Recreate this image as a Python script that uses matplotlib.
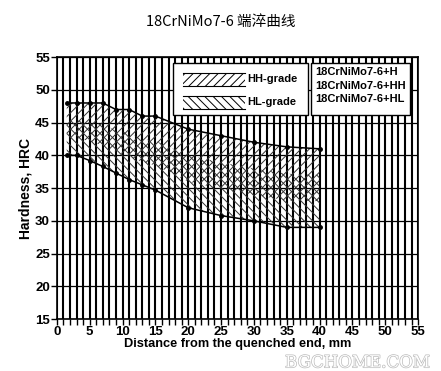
import matplotlib.pyplot as plt
import matplotlib.patheffects as pe
from matplotlib.patches import Rectangle
import numpy as np

# Jominy hardenability band, 18CrNiMo7-6
dist = np.array([1.5, 3, 5, 7, 9, 11, 13, 15, 20, 25, 30, 35, 40])
h_max = np.array([48, 48, 48, 48, 47, 47, 46, 46, 44, 43, 42, 41.3, 41])
h_min = np.array([40, 40, 39.2, 38.3, 37.3, 36.3, 35.5, 34.7, 32, 30.8, 30, 29, 29])

grade_labels = ['HH-grade', 'HL-grade']
steel_labels = ['18CrNiMo7-6+H', '18CrNiMo7-6+HH', '18CrNiMo7-6+HL']
title = '18CrNiMo7-6 端淬曲线'

plt.rcParams['font.family'] = ['Liberation Sans', 'DejaVu Sans']
plt.rcParams['hatch.linewidth'] = 0.7

fig = plt.figure(figsize=(4.41, 3.71), dpi=100)
ax = fig.add_axes([0.129, 0.140, 0.819, 0.706])

# HH = upper two thirds of the H band, HL = lower two thirds
third = (h_max - h_min) / 3
ax.fill_between(dist, h_min + third, h_max, facecolor='none', edgecolor='#333333',
                hatch='////', linewidth=0, zorder=2)
ax.fill_between(dist, h_min, h_max - third, facecolor='none', edgecolor='#333333',
                hatch='\\\\\\\\', linewidth=0, zorder=2)

ax.plot(dist, h_max, color='black', lw=1.1, marker='o', ms=2.5, zorder=4)
ax.plot(dist, h_min, color='black', lw=1.1, marker='o', ms=2.5, zorder=4)

ax.set_xlim(0, 55)
ax.set_ylim(15, 55)
ax.set_xticks(np.arange(0, 56, 5))
ax.set_xticks(np.arange(0, 56, 1), minor=True)
ax.set_yticks(np.arange(15, 56, 5))
ax.grid(which='both', axis='x', color='black', lw=1.5, zorder=1)
ax.grid(which='major', axis='y', color='black', lw=0.9, zorder=1)
ax.set_axisbelow(True)
for s in ax.spines.values():
    s.set_linewidth(1.2)

ax.tick_params(axis='both', which='both', direction='out', length=4, width=1,
               labelsize=9.5, pad=1)
for lab in ax.get_xticklabels() + ax.get_yticklabels():
    lab.set_fontweight('bold')

ax.set_xlabel('Distance from the quenched end, mm', fontsize=9.2,
              fontweight='bold', labelpad=0)
ax.set_ylabel('Hardness, HRC', fontsize=10, fontweight='bold', labelpad=2)

# legend boxes
ax.add_patch(Rectangle((17.7, 46.1), 20.6, 8.0, facecolor='white',
                       edgecolor='black', lw=1.0, zorder=5))
ax.add_patch(Rectangle((38.7, 46.1), 15.0, 8.0, facecolor='white',
                       edgecolor='black', lw=1.0, zorder=5))

patch_y = [51.6, 48.1]
hatches = ['////', '\\\\\\\\']
for y, h, lab in zip(patch_y, hatches, grade_labels):
    ax.add_patch(Rectangle((19.2, y - 1.0), 9.4, 2.0, facecolor='white',
                           edgecolor='black', hatch=h, lw=0, zorder=6))
    ax.plot([19.2, 28.6], [y + 1.0, y + 1.0], color='black', lw=0.8, zorder=7)
    ax.plot([19.2, 28.6], [y - 1.0, y - 1.0], color='black', lw=0.8, zorder=7)
    ax.text(29.0, y + 0.1, lab, fontsize=8, fontweight='bold', va='center',
            ha='left', zorder=7)

for y, lab in zip([52.7, 50.6, 48.6], steel_labels):
    ax.text(39.4, y, lab, fontsize=8, fontweight='bold', va='center',
            ha='left', zorder=7)

fig.text(0.5, 0.94, title, ha='center', va='center', fontsize=10.5,
         family=['Noto Sans CJK SC', 'DejaVu Sans'])

# watermark, kept just below the axis label
fig.text(0.81, 0.022, 'BGCHOME.COM', ha='center', va='center', fontsize=12,
         color='white', family='DejaVu Serif', zorder=-1,
         path_effects=[pe.withStroke(linewidth=1.0, foreground='#bbbbbb')])

fig.savefig('out.png', dpi=100)
